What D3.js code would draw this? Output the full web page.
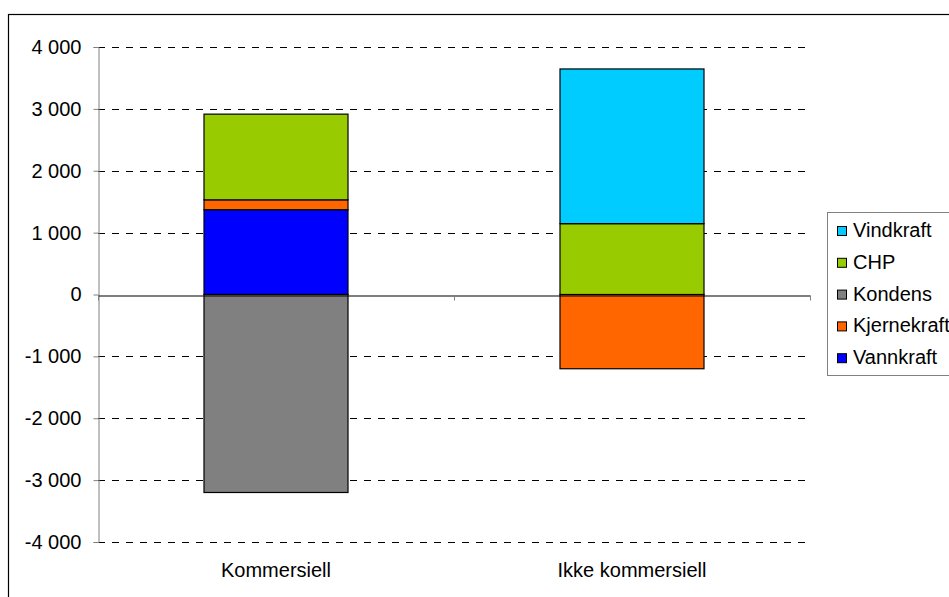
<!DOCTYPE html>
<html>
<head>
<meta charset="utf-8">
<script src="https://cdn.jsdelivr.net/npm/d3@7"></script>
<style>
  body { margin: 0; background: #fff; }
  svg text { font-family: "Liberation Sans", Arial, sans-serif; font-size: 20px; fill: #000; }
</style>
</head>
<body>
<div id="chart"></div>
<script>
// data
const categories = ["Kommersiell", "Ikke kommersiell"];
const seriesNames = ["Vannkraft", "Kjernekraft", "Kondens", "CHP", "Vindkraft"];
const vannkraft   = [1370, 0];
const kjernekraft = [160, -1200];
const kondens     = [-3200, 0];
const chp         = [1385, 1145];
const vindkraft   = [0, 2500];
const yTicks = [-4000, -3000, -2000, -1000, 0, 1000, 2000, 3000, 4000];
const legendOrder = ["Vindkraft", "CHP", "Kondens", "Kjernekraft", "Vannkraft"];

const colors = {
  Vannkraft: "#0000ff",
  Kjernekraft: "#ff6600",
  Kondens: "#808080",
  CHP: "#99cc00",
  Vindkraft: "#00ccff"
};

const rows = categories.map(function(c, i) {
  return {cat: c, Vannkraft: vannkraft[i], Kjernekraft: kjernekraft[i],
          Kondens: kondens[i], CHP: chp[i], Vindkraft: vindkraft[i]};
});

// dimensions
const W = 949, H = 597;
const plot = {left: 98, right: 810, top: 47, bottom: 542};

const svg = d3.select("#chart").append("svg")
  .attr("width", W)
  .attr("height", H);

// outer frame
svg.append("rect")
  .attr("x", 8.5).attr("y", 14.5)
  .attr("width", 960).attr("height", 620)
  .attr("fill", "none")
  .attr("stroke", "#000")
  .attr("stroke-width", 1.2);

const x = d3.scaleBand().domain(categories).range([plot.left, plot.right]).paddingInner(0).paddingOuter(0);
const y = d3.scaleLinear().domain([-4000, 4000]).range([plot.bottom, plot.top]);
const barW = 144;

const nb = d3.formatLocale({decimal: ",", thousands: "\u00a0", grouping: [3], currency: ["", ""], minus: "-"});
const fmt = nb.format(",d");

// gridlines
svg.append("g").selectAll("line")
  .data(yTicks.filter(function(d) { return d !== 0; }))
  .join("line")
  .attr("x1", plot.left).attr("x2", plot.right)
  .attr("y1", function(d) { return Math.round(y(d)) + 0.5; })
  .attr("y2", function(d) { return Math.round(y(d)) + 0.5; })
  .attr("stroke", "#000")
  .attr("stroke-dasharray", "7,7");

// y axis
const yAxis = svg.append("g")
  .attr("transform", "translate(" + (plot.left + 0.5) + ",0)")
  .call(d3.axisLeft(y).tickValues(yTicks).tickSize(5).tickPadding(12).tickFormat(fmt));
yAxis.select(".domain").attr("stroke", "#808080");
yAxis.selectAll(".tick line").attr("stroke", "#808080");
yAxis.selectAll(".tick text").style("font-size", "20px").attr("fill", "#000");

// stacked bars
const stack = d3.stack().keys(seriesNames).offset(d3.stackOffsetDiverging);
const layers = stack(rows);

svg.append("g").selectAll("g")
  .data(layers)
  .join("g")
  .attr("fill", function(d) { return colors[d.key]; })
  .selectAll("rect")
  .data(function(d) { return d.filter(function(p) { return p[1] - p[0] !== 0; }); })
  .join("rect")
  .attr("x", function(d) { return x(d.data.cat) + (x.bandwidth() - barW) / 2; })
  .attr("width", barW)
  .attr("y", function(d) { return y(d[1]); })
  .attr("height", function(d) { return y(d[0]) - y(d[1]); })
  .attr("stroke", "#000")
  .attr("stroke-width", 1.2);

// category axis on the zero line
const xAxis = svg.append("g")
  .attr("transform", "translate(0," + (Math.round(y(0)) + 0.5) + ")")
  .call(d3.axisBottom(x).tickSize(0).tickFormat(""));
xAxis.select(".domain").attr("stroke", "#000").attr("stroke-width", 1.2);
xAxis.append("g").selectAll("line")
  .data([plot.left, (plot.left + plot.right) / 2, plot.right])
  .join("line")
  .attr("x1", function(d) { return d + 0.5; })
  .attr("x2", function(d) { return d + 0.5; })
  .attr("y1", 0).attr("y2", 5)
  .attr("stroke", "#808080");

// category labels at the bottom
svg.append("g").selectAll("text")
  .data(categories)
  .join("text")
  .attr("x", function(d) { return x(d) + x.bandwidth() / 2; })
  .attr("y", 577)
  .attr("text-anchor", "middle")
  .text(function(d) { return d; });

// legend
const legend = svg.append("g");
legend.append("rect")
  .attr("x", 827.5).attr("y", 212.5)
  .attr("width", 125).attr("height", 163)
  .attr("fill", "#fff")
  .attr("stroke", "#808080");

const item = legend.selectAll("g.item")
  .data(legendOrder)
  .join("g")
  .attr("class", "item")
  .attr("transform", function(d, i) { return "translate(0," + (230 + i * 31.8) + ")"; });
item.append("rect")
  .attr("x", 837.5).attr("y", -3.5)
  .attr("width", 9).attr("height", 9)
  .attr("fill", function(d) { return colors[d]; })
  .attr("stroke", "#000");
item.append("text")
  .attr("x", 853)
  .attr("y", 7)
  .text(function(d) { return d; });
</script>
</body>
</html>
